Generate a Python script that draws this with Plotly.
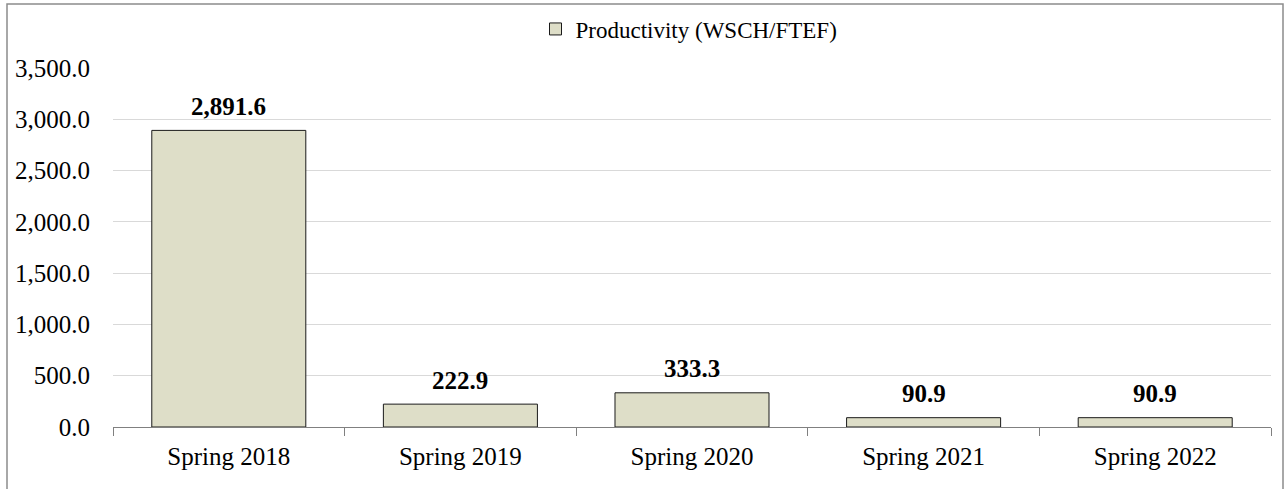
import plotly.graph_objects as go

categories = ["Spring 2018", "Spring 2019", "Spring 2020", "Spring 2021", "Spring 2022"]
productivity = [2891.6, 222.9, 333.3, 90.9, 90.9]
series_name = "Productivity (WSCH/FTEF)"
y_ticks = [0, 500, 1000, 1500, 2000, 2500, 3000, 3500]

FONT = "Liberation Serif, Times New Roman, serif"

fig = go.Figure()
fig.add_trace(go.Bar(
    x=categories, y=productivity, name=series_name,
    marker=dict(color="#DEDEC8", line=dict(color="#1a1a1a", width=1)),
    width=0.665, showlegend=True,
))

for c, v in zip(categories, productivity):
    fig.add_annotation(x=c, y=v, text=f"{v:,.1f}", showarrow=False,
                       yanchor="middle", yshift=24,
                       font=dict(family=FONT, size=25, color="black", weight="bold"))

# outer border
fig.add_shape(type="rect", xref="paper", yref="paper",
              x0=(7 - 113) / 1158, x1=(1283 - 113) / 1158,
              y0=(427 - 520) / 359, y1=(427 - 4) / 359,
              line=dict(color="#8c8c8c", width=1.5), fillcolor="rgba(0,0,0,0)", layer="below")

fig.update_layout(
    width=1288, height=489,
    margin=dict(l=113, r=17, t=68, b=62, autoexpand=False),
    paper_bgcolor="white", plot_bgcolor="white",
    font=dict(family=FONT, size=25, color="black"),
    bargap=0.335,
    showlegend=True,
    legend=dict(orientation="h", x=0.5 - 3 / 1158, xanchor="center", y=(427 - 29) / 359, yanchor="middle",
                font=dict(family=FONT, size=23, color="black"), bgcolor="rgba(0,0,0,0)"),
    xaxis=dict(showline=True, linecolor="#808080", linewidth=1, ticks="outside",
               tickson="boundaries", ticklen=8, tickcolor="#808080", showgrid=False,
               ticklabelstandoff=7,
               tickfont=dict(family=FONT, size=25, color="black")),
    yaxis=dict(range=[0, 3500], tickvals=y_ticks, tickformat=",.1f", showgrid=True,
               gridcolor="#D9D9D9", gridwidth=1, showline=False, zeroline=False,
               ticks="", ticklabelstandoff=22,
               tickfont=dict(family=FONT, size=25, color="black")),
)

fig.write_html("out.html", config={"displayModeBar": False},
               post_script="document.body.style.margin='0';")
